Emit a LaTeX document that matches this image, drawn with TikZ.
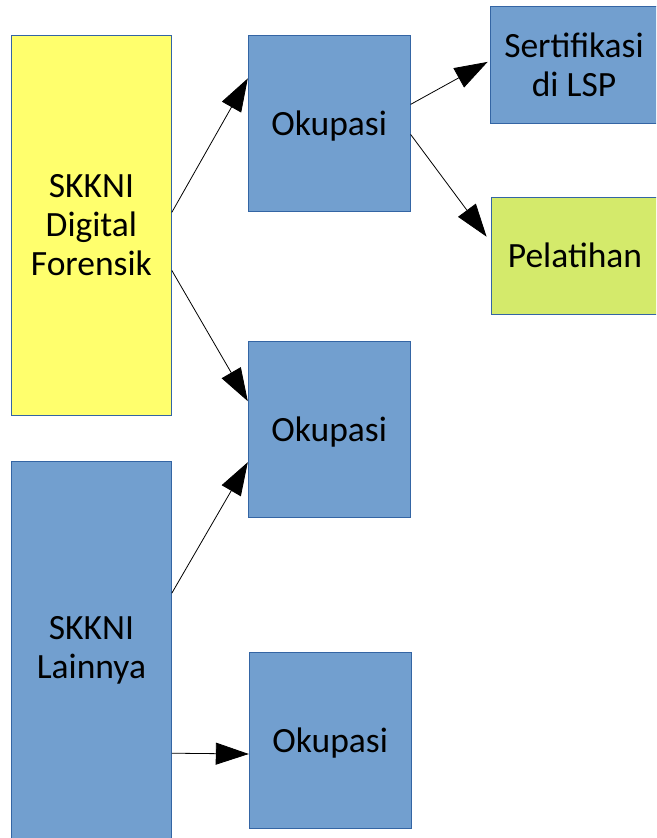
\documentclass[tikz,border=0pt]{standalone}
\usepackage{fontspec}
\setmainfont{Carlito}
\usetikzlibrary{arrows.meta, positioning}
\definecolor{boxblue}{HTML}{729FCF}
\definecolor{boxedge}{HTML}{3465A4}
\definecolor{boxyellow}{HTML}{FFFF6D}
\definecolor{boxgreen}{HTML}{D4EA6B}
\tikzset{
    block/.style={rectangle, draw=boxedge, fill=boxblue, line width=0.8pt, align=center, inner sep=0pt, font=\fontsize{35.5}{39}\selectfont},
    standard/.style={block, fill=boxyellow, minimum width=160pt, minimum height=380pt},
    okupasi/.style={block, text depth=0pt, minimum width=162pt, minimum height=176pt},
    target/.style={block, minimum width=168pt, minimum height=117pt},
    arrow/.style={-{Triangle[length=33pt, width=22pt]}, line width=0.8pt},
}

\begin{document}
\begin{tikzpicture}[x=1pt, y=-1pt]
        \clip (0,0) rectangle (656,838);

        % SKKNI
        \node[standard, anchor=north west] (digital) at (11,35) {SKKNI\\Digital\\Forensik};
        \node[standard, fill=boxblue, below=45pt of digital, minimum height=378pt] (lainnya) {SKKNI\\Lainnya};

        % Okupasi
        \node[okupasi, right=76pt of digital.north east, anchor=north west] (okupasi1) {Okupasi};
        \node[okupasi, below=129pt of okupasi1] (okupasi2) {Okupasi};
        \node[okupasi, below=134pt of okupasi2, xshift=1pt] (okupasi3) {Okupasi};

        % Lanjutan
        \node[target, right=79pt of okupasi1.north east, anchor=north west, yshift=29pt] (lsp) {Sertifikasi\\di LSP};
        \node[target, fill=boxgreen, below=73pt of lsp, xshift=1pt] (pelatihan) {Pelatihan};

        % Arrows
        \draw[arrow] ([yshift=13pt]digital.east) -- ([yshift=45pt]okupasi1.west);
        \draw[arrow] ([yshift=-45pt]digital.east) -- ([yshift=28pt]okupasi2.west);
        \draw[arrow] ([yshift=19pt]okupasi1.east) -- ([xshift=-2pt, yshift=3pt]lsp.west);
        \draw[arrow] ([yshift=-11pt]okupasi1.east) -- ([xshift=-4pt, yshift=19pt]pelatihan.west);
        \draw[arrow] ([yshift=57pt]lainnya.east) -- ([yshift=-33pt]okupasi2.west);
        \draw[arrow] ([yshift=-103pt]lainnya.east) -- ([yshift=-14pt]okupasi3.west);
\end{tikzpicture}
\end{document}
